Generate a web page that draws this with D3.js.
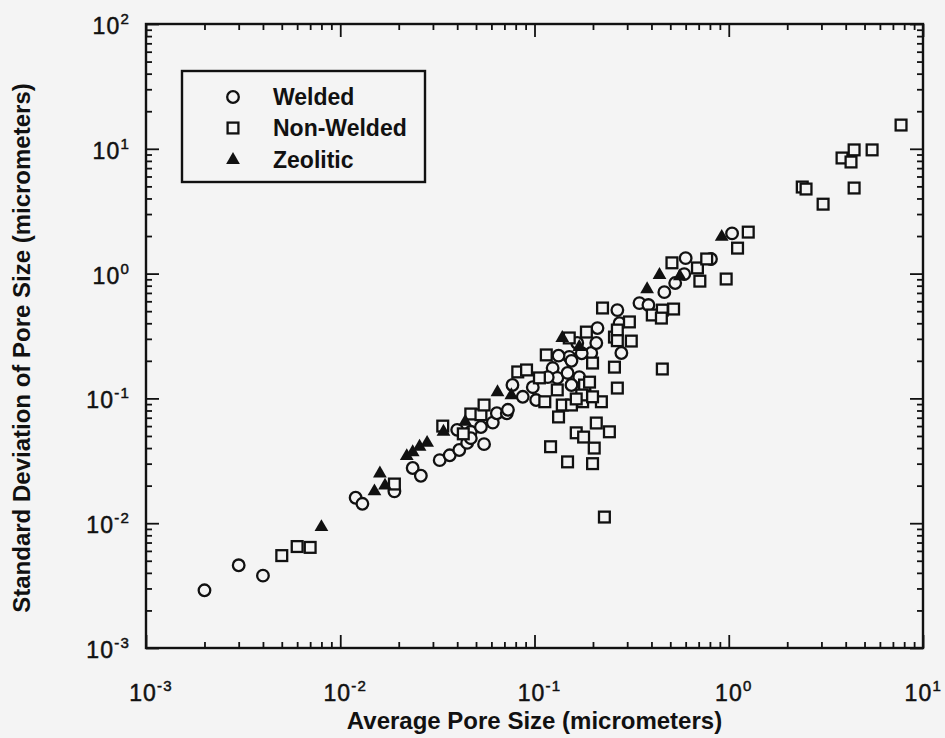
<!DOCTYPE html>
<html>
<head>
<meta charset="utf-8">
<script src="https://cdn.jsdelivr.net/npm/d3@7"></script>
<style>
  html, body { margin: 0; padding: 0; background: #f4f4f4; }
  svg { display: block; }
</style>
</head>
<body>
<svg id="chart" width="945" height="738"></svg>
<script>
// Average pore size vs. standard deviation of pore size (micrometers)
const welded = [
  [0.0020, 0.0029], [0.0030, 0.0046], [0.0040, 0.0038],
  [0.012, 0.016], [0.013, 0.0143], [0.019, 0.018], [0.0236, 0.0277], [0.026, 0.024],
  [0.0325, 0.032], [0.0366, 0.035], [0.041, 0.0386], [0.045, 0.044], [0.055, 0.043],
  [0.047, 0.054], [0.053, 0.059], [0.061, 0.064], [0.064, 0.076], [0.072, 0.076],
  [0.077, 0.128], [0.087, 0.103], [0.102, 0.097], [0.098, 0.123],
  [0.124, 0.175], [0.131, 0.146], [0.151, 0.215], [0.170, 0.148], [0.181, 0.117],
  [0.196, 0.231], [0.208, 0.278], [0.211, 0.366], [0.267, 0.51], [0.274, 0.40], [0.280, 0.231],
  [0.347, 0.58], [0.386, 0.56], [0.466, 0.71], [0.53, 0.84], [0.59, 0.99], [0.60, 1.33],
  [0.81, 1.31], [1.04, 2.1],
  [0.133, 0.22], [0.155, 0.20], [0.175, 0.23], [0.117, 0.148], [0.148, 0.16], [0.155, 0.128],
  [0.166, 0.278], [0.073, 0.081], [0.040, 0.056], [0.047, 0.048]
];

const nonWelded = [
  [0.0050, 0.0055], [0.0060, 0.0065], [0.0070, 0.0064], [0.019, 0.0206], [0.0337, 0.060],
  [0.043, 0.052], [0.047, 0.075], [0.053, 0.074], [0.055, 0.0885], [0.082, 0.163], [0.091, 0.169],
  [0.106, 0.146], [0.115, 0.223], [0.113, 0.094], [0.139, 0.0885], [0.155, 0.0885], [0.177, 0.094],
  [0.221, 0.094], [0.131, 0.117], [0.181, 0.128], [0.175, 0.1065], [0.192, 0.135], [0.199, 0.192],
  [0.151, 0.305], [0.185, 0.34], [0.224, 0.53], [0.258, 0.31], [0.267, 0.353], [0.258, 0.178],
  [0.267, 0.121], [0.308, 0.41], [0.315, 0.288], [0.267, 0.29], [0.455, 0.172], [0.404, 0.466],
  [0.455, 0.51], [0.52, 0.52], [0.45, 0.44], [0.51, 1.22], [0.69, 1.11], [0.77, 1.31], [0.71, 0.87],
  [0.97, 0.905], [1.11, 1.60], [1.26, 2.15], [2.39, 4.94], [2.50, 4.76], [3.06, 3.6], [3.83, 8.44],
  [4.26, 7.84], [4.42, 9.8], [5.47, 9.8], [4.42, 4.85], [7.71, 15.5],
  [0.208, 0.0635], [0.164, 0.053], [0.179, 0.049], [0.243, 0.054], [0.203, 0.040], [0.121, 0.041],
  [0.148, 0.031], [0.199, 0.030], [0.229, 0.0112], [0.133, 0.071], [0.164, 0.099], [0.199, 0.103]
];

const zeolitic = [
  [0.0080, 0.0093], [0.015, 0.018], [0.016, 0.025], [0.017, 0.020], [0.022, 0.0345],
  [0.0236, 0.037], [0.0256, 0.041], [0.028, 0.044], [0.034, 0.054], [0.044, 0.065],
  [0.0645, 0.112], [0.076, 0.106], [0.139, 0.305], [0.170, 0.258], [0.38, 0.75],
  [0.44, 0.975], [0.56, 0.95], [0.92, 1.97]
];

const xExponents = [-3, -2, -1, 0, 1];
const yExponents = [-3, -2, -1, 0, 1, 2];
const legendLabels = ["Welded", "Non-Welded", "Zeolitic"];
const xTitle = "Average Pore Size (micrometers)";
const yTitle = "Standard Deviation of Pore Size (micrometers)";

const bg = "#f4f4f4";
const ink = "#111";
const box = { left: 146, right: 923, top: 24, bottom: 648 };
const W = 945;

const svg = d3.select("#chart");
svg.append("rect").attr("width", W).attr("height", 738).attr("fill", bg);

const x = d3.scaleLog().domain([1e-3, 10]).range([box.left, box.right]);
const y = d3.scaleLog().domain([1e-3, 100]).range([box.bottom, box.top]);

const xMajor = xExponents.map(e => Math.pow(10, e));
const yMajor = yExponents.map(e => Math.pow(10, e));
const xMinor = x.ticks().filter(v => !xMajor.some(m => Math.abs(v / m - 1) < 1e-9));
const yMinor = y.ticks().filter(v => !yMajor.some(m => Math.abs(v / m - 1) < 1e-9));

function styleAxis(g) {
  g.select(".domain").remove();
  g.selectAll(".tick line").attr("stroke", ink).attr("stroke-width", 1.8);
  g.selectAll(".tick text").remove();
}

const axes = [
  [d3.axisBottom, x, xMajor, xMinor, `translate(0,${box.bottom})`],
  [d3.axisTop, x, xMajor, xMinor, `translate(0,${box.top})`],
  [d3.axisLeft, y, yMajor, yMinor, `translate(${box.left},0)`],
  [d3.axisRight, y, yMajor, yMinor, `translate(${box.right},0)`]
];
axes.forEach(([fn, sc, maj, min, tr]) => {
  svg.append("g").attr("transform", tr)
    .call(fn(sc).tickValues(min).tickSize(-6).tickFormat(""))
    .call(styleAxis);
  svg.append("g").attr("transform", tr)
    .call(fn(sc).tickValues(maj).tickSize(-13).tickFormat(""))
    .call(styleAxis);
});

// frame
svg.append("rect")
  .attr("x", box.left).attr("y", box.top)
  .attr("width", box.right - box.left).attr("height", box.bottom - box.top)
  .attr("fill", "none").attr("stroke", ink).attr("stroke-width", 2.4);

// tick labels as powers of ten
const tickFont = "'Liberation Sans', Arial, Helvetica, sans-serif";
function powerLabel(sel, e) {
  sel.append("tspan").text("10");
  sel.append("tspan").attr("font-size", 15).attr("dy", -10).text(String(e));
  return sel;
}
function tickText(xPos, yPos, anchor) {
  return svg.append("text")
    .attr("x", xPos).attr("y", yPos)
    .attr("text-anchor", anchor)
    .attr("font-family", tickFont).attr("font-size", 23).attr("letter-spacing", 1.2)
    .attr("fill", ink).attr("stroke", ink).attr("stroke-width", 0.5);
}
xExponents.forEach(e => {
  const t = powerLabel(tickText(x(Math.pow(10, e)) + 5, 701, "middle"), e);
  // keep the rightmost label inside the page
  const bb = t.node().getBBox();
  const overflow = bb.x + bb.width - (W - 3);
  if (overflow > 0) t.attr("x", +t.attr("x") - overflow);
});
yExponents.forEach(e => powerLabel(tickText(130, y(Math.pow(10, e)) + 10, "end"), e));

// axis titles
svg.append("text")
  .attr("x", (box.left + box.right) / 2).attr("y", 729)
  .attr("text-anchor", "middle")
  .attr("font-family", tickFont).attr("font-weight", "bold").attr("font-size", 24)
  .attr("fill", ink).text(xTitle);
svg.append("text")
  .attr("transform", `translate(30,${(box.top + box.bottom) / 2 + 12}) rotate(-90)`)
  .attr("text-anchor", "middle")
  .attr("font-family", tickFont).attr("font-weight", "bold").attr("font-size", 24)
  .attr("fill", ink).text(yTitle);

// markers
const plot = svg.append("g");
plot.selectAll("circle.welded").data(welded).join("circle")
  .attr("class", "welded")
  .attr("cx", d => x(d[0])).attr("cy", d => y(d[1])).attr("r", 5.8)
  .attr("fill", bg).attr("stroke", ink).attr("stroke-width", 2.3);

const sq = 10.8;
plot.selectAll("rect.nonwelded").data(nonWelded).join("rect")
  .attr("class", "nonwelded")
  .attr("x", d => x(d[0]) - sq / 2).attr("y", d => y(d[1]) - sq / 2)
  .attr("width", sq).attr("height", sq)
  .attr("fill", bg).attr("stroke", ink).attr("stroke-width", 2.3);

const tri = d3.symbol(d3.symbolTriangle, 82);
plot.selectAll("path.zeolitic").data(zeolitic).join("path")
  .attr("class", "zeolitic")
  .attr("transform", d => `translate(${x(d[0])},${y(d[1])})`)
  .attr("d", tri).attr("fill", ink);

// legend
const lg = svg.append("g");
lg.append("rect").attr("x", 182).attr("y", 71).attr("width", 243).attr("height", 111)
  .attr("fill", bg).attr("stroke", ink).attr("stroke-width", 2.4);
const rowY = [97, 128, 160];
lg.append("circle").attr("cx", 233).attr("cy", rowY[0]).attr("r", 5.8)
  .attr("fill", bg).attr("stroke", ink).attr("stroke-width", 2.3);
lg.append("rect").attr("x", 233 - sq / 2).attr("y", rowY[1] - sq / 2).attr("width", sq).attr("height", sq)
  .attr("fill", bg).attr("stroke", ink).attr("stroke-width", 2.3);
lg.append("path").attr("transform", `translate(233,${rowY[2]})`).attr("d", tri).attr("fill", ink);
legendLabels.forEach((name, i) => {
  lg.append("text").attr("x", 273).attr("y", rowY[i] + 8)
    .attr("font-family", tickFont).attr("font-weight", "bold").attr("font-size", 23)
    .attr("fill", ink).text(name);
});
</script>
</body>
</html>
